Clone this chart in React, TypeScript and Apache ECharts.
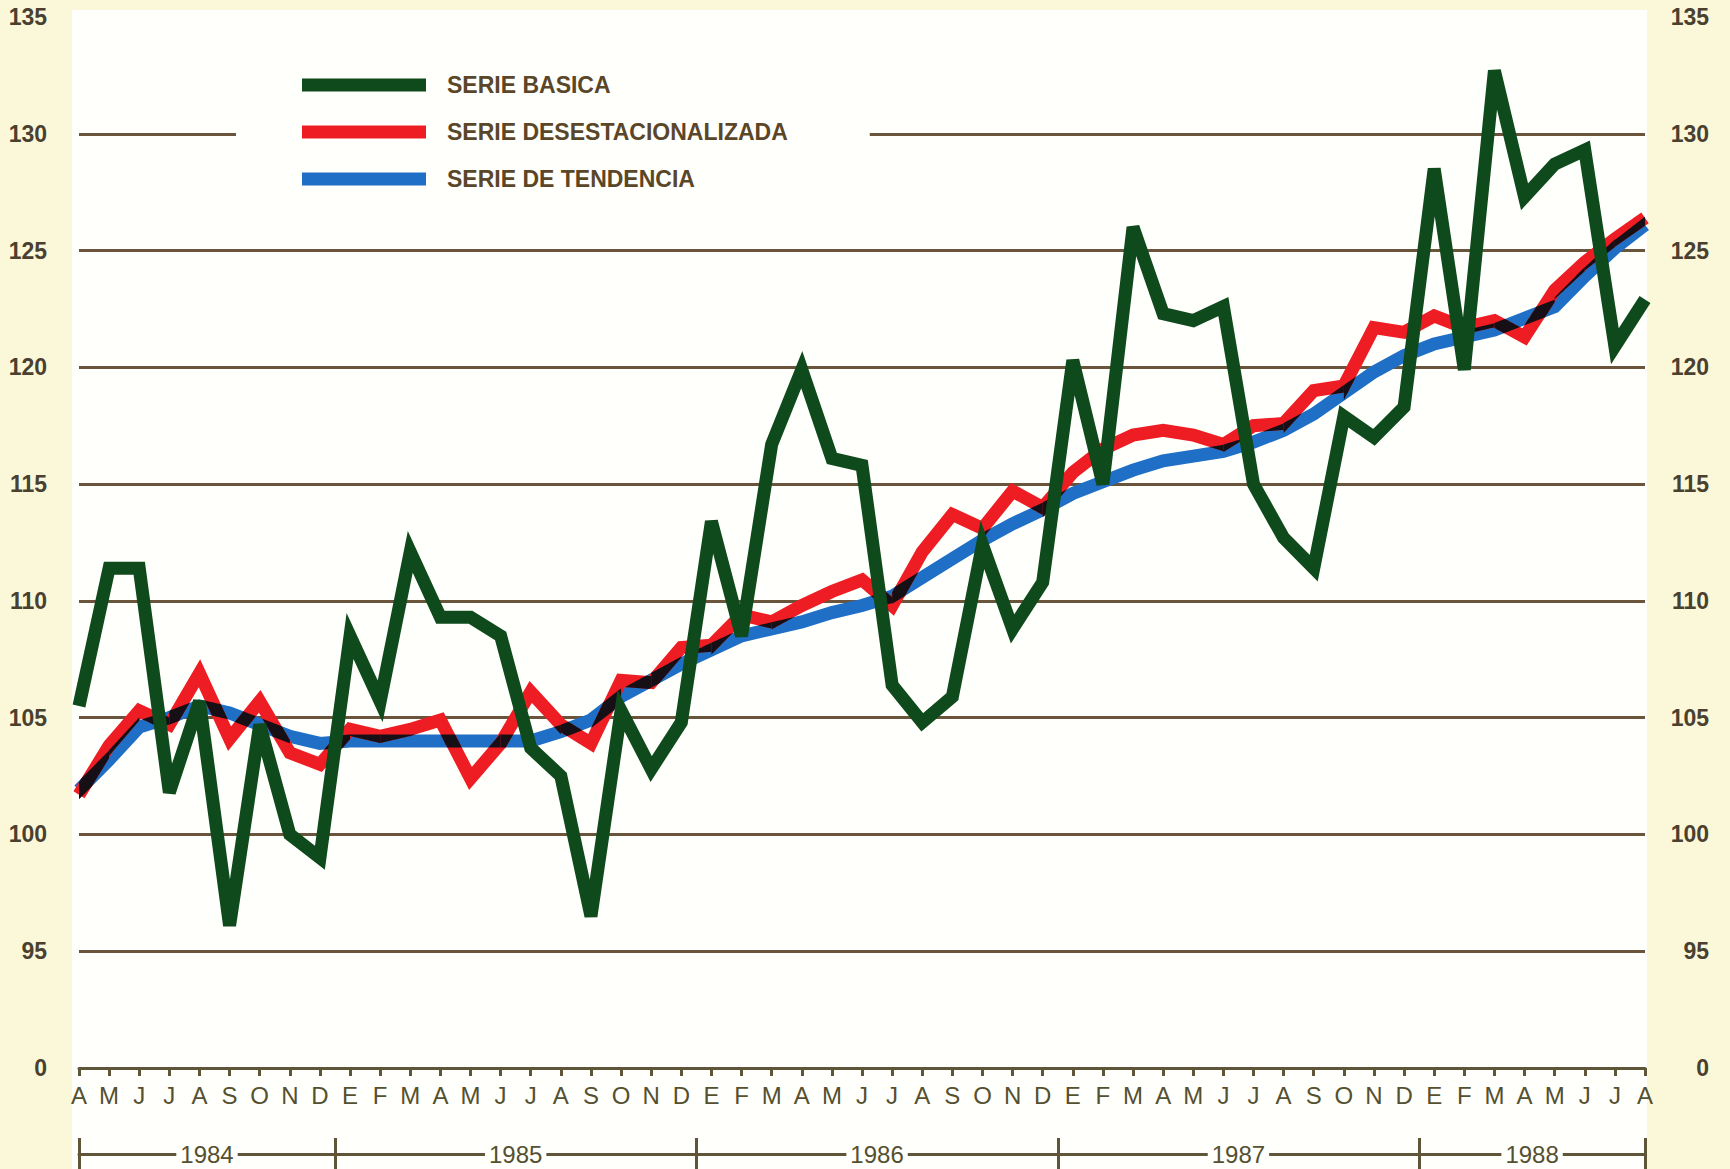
import React, { useEffect, useRef } from "react";
import * as echarts from "echarts";

// ---- data ----
const months1984 = ["A", "M", "J", "J", "A", "S", "O", "N", "D"];
const monthsFullYear = ["E", "F", "M", "A", "M", "J", "J", "A", "S", "O", "N", "D"];
const months1988 = ["E", "F", "M", "A", "M", "J", "J", "A"];
const categories = [
  ...months1984,
  ...monthsFullYear,
  ...monthsFullYear,
  ...monthsFullYear,
  ...months1988,
];
const years = ["1984", "1985", "1986", "1987", "1988"];
const monthsPerYear = [9, 12, 12, 12, 8];

const yTicks = [90, 95, 100, 105, 110, 115, 120, 125, 130, 135];
const yTickText = ["0", "95", "100", "105", "110", "115", "120", "125", "130", "135"];

const serieBasica = [
  105.5, 111.4, 111.4, 101.8, 105.7, 96.1, 104.7, 100.0, 99.0,
  108.5, 105.7, 112.1, 109.3, 109.3, 108.5, 103.7, 102.5, 96.5, 105.3, 102.8, 104.8,
  113.4, 108.5, 116.7, 119.9, 116.1, 115.8, 106.4, 104.8, 105.9, 112.4, 108.8, 110.8,
  120.3, 115.0, 126.0, 122.3, 122.0, 122.6, 115.0, 112.7, 111.4, 117.9, 117.0, 118.3,
  128.5, 119.9, 132.7, 127.3, 128.7, 129.3, 120.9, 122.9,
];
const serieDesestacionalizada = [
  101.7, 103.8, 105.3, 104.7, 106.9, 104.1, 105.7, 103.5, 103.0,
  104.5, 104.2, 104.5, 104.9, 102.4, 103.9, 106.1, 104.7, 103.9, 106.6, 106.5, 108.0,
  108.1, 109.4, 109.1, 109.8, 110.4, 110.9, 109.8, 112.1, 113.7, 113.1, 114.7, 114.0,
  115.5, 116.5, 117.1, 117.3, 117.1, 116.7, 117.5, 117.6, 119.0, 119.2, 121.7, 121.5,
  122.2, 121.7, 122.0, 121.3, 123.3, 124.5, 125.5, 126.4,
];
const serieTendencia = [
  101.9, 103.2, 104.6, 105.0, 105.5, 105.2, 104.7, 104.2, 103.9,
  104.0, 104.0, 104.0, 104.0, 104.0, 104.0, 104.0, 104.4, 104.9, 105.9, 106.6, 107.3,
  107.9, 108.5, 108.8, 109.1, 109.5, 109.8, 110.2, 111.0, 111.8, 112.6, 113.3, 113.9,
  114.6, 115.1, 115.6, 116.0, 116.2, 116.4, 116.8, 117.3, 118.0, 118.9, 119.8, 120.5,
  121.0, 121.3, 121.6, 122.1, 122.6, 123.9, 125.1, 126.1,
];

const seriesNames = ["SERIE BASICA", "SERIE DESESTACIONALIZADA", "SERIE DE TENDENCIA"];
const seriesColors = ["#0f4a1c", "#ee1d23", "#1f6fc6"];

// year separators / label centres in month-index units
const lastIndex = categories.length - 1;
const yearBounds: number[] = [0];
const yearMids: number[] = [];
{
  let cum = 0;
  monthsPerYear.forEach((n, i) => {
    const start = i === 0 ? 0 : cum - 0.5;
    cum += n;
    const end = i === monthsPerYear.length - 1 ? lastIndex : cum - 0.5;
    yearBounds.push(end);
    yearMids.push((start + end) / 2);
  });
}

const FONT = "'Liberation Sans', Arial, Helvetica, sans-serif";
const GRID_COLOR = "#6a553c";
const AXIS_COLOR = "#5f5538";
const TEXT_COLOR = "#4a4030";
const PAPER = "#fbf8da";
const WHITE = "#fffffc";
const OVERPRINT = "#161016";
const LINE_W = 13;

export default function App() {
  const ref = useRef<HTMLDivElement>(null);

  useEffect(() => {
    if (!ref.current) return;
    const chart = echarts.init(ref.current, undefined, { renderer: "svg" });

    const yFmt = (v: number) => {
      const k = yTicks.indexOf(Math.round(v));
      return k >= 0 ? yTickText[k] : "";
    };

    const yearAxisBase = {
      type: "value",
      min: 0,
      max: lastIndex,
      position: "bottom",
      offset: 86,
      splitLine: { show: false },
    };

    // where the red and blue inks overlap in print they read as black:
    // intersection of the two stroke bands, segment by segment
    const overlapItem = (params: any, api: any) => {
      const i = params.dataIndex;
      const a0 = api.coord([i, serieDesestacionalizada[i]]);
      const a1 = api.coord([i + 1, serieDesestacionalizada[i + 1]]);
      const b0 = api.coord([i, serieTendencia[i]]);
      const b1 = api.coord([i + 1, serieTendencia[i + 1]]);
      const dx = a1[0] - a0[0];
      const ha = (LINE_W / 2) * Math.sqrt(1 + Math.pow((a1[1] - a0[1]) / dx, 2));
      const hb = (LINE_W / 2) * Math.sqrt(1 + Math.pow((b1[1] - b0[1]) / dx, 2));
      const N = 60;
      const top: number[][] = [];
      const bot: number[][] = [];
      for (let k = 0; k <= N; k++) {
        const t = k / N;
        const x = a0[0] + t * dx;
        const ya = a0[1] + t * (a1[1] - a0[1]);
        const yb = b0[1] + t * (b1[1] - b0[1]);
        const lo = Math.max(ya - ha, yb - hb);
        const hi = Math.min(ya + ha, yb + hb);
        if (hi > lo) {
          top.push([x, lo]);
          bot.push([x, hi]);
        }
      }
      if (top.length < 2) return { type: "group", children: [] };
      return {
        type: "polygon",
        shape: { points: top.concat(bot.reverse()) },
        style: { fill: OVERPRINT },
      };
    };

    const lineSeries = [serieBasica, serieDesestacionalizada, serieTendencia].map((d, i) => ({
      name: seriesNames[i],
      type: "line",
      xAxisIndex: 0,
      yAxisIndex: 0,
      data: d,
      symbol: "none",
      showSymbol: false,
      color: seriesColors[i],
      itemStyle: { color: seriesColors[i] },
      lineStyle: { color: seriesColors[i], width: LINE_W, join: "miter", miterLimit: 4 },
      emphasis: { disabled: true },
      silent: true,
      z: i === 0 ? 5 : 3 - i,
    }));

    const option: any = {
      animation: false,
      backgroundColor: PAPER,
      graphic: [
        {
          type: "rect",
          z: -10,
          silent: true,
          shape: { x: 72, y: 10, width: 1575, height: 1159 },
          style: { fill: WHITE },
        },
      ],
      grid: { left: 79, right: 85, top: 17, bottom: 101 },
      legend: {
        orient: "vertical",
        left: 236,
        top: 60,
        icon: "rect",
        itemWidth: 124,
        itemHeight: 13,
        itemGap: 23,
        padding: [13, 82, 13, 66],
        backgroundColor: WHITE,
        selectedMode: false,
        textStyle: {
          color: "#5a4628",
          fontSize: 23,
          fontWeight: "bold",
          fontFamily: FONT,
          lineHeight: 24,
          padding: [0, 0, 0, 16],
        },
        data: seriesNames,
      },
      xAxis: [
        {
          type: "category",
          data: categories,
          boundaryGap: false,
          axisLine: { lineStyle: { color: AXIS_COLOR, width: 3 } },
          axisTick: {
            show: true,
            interval: 0,
            length: 8,
            lineStyle: { color: AXIS_COLOR, width: 3 },
          },
          axisLabel: {
            interval: 0,
            margin: 15,
            color: "#55502f",
            fontSize: 24,
            fontFamily: FONT,
          },
          splitLine: { show: false },
        },
        {
          ...yearAxisBase,
          axisLine: { show: true, lineStyle: { color: AXIS_COLOR, width: 3 } },
          axisTick: {
            show: true,
            customValues: yearBounds,
            length: 18,
            inside: false,
            lineStyle: { color: AXIS_COLOR, width: 3 },
          },
          axisLabel: {
            show: true,
            customValues: yearMids,
            formatter: (v: number) => {
              const k = yearMids.findIndex((m) => Math.abs(m - v) < 0.01);
              return k >= 0 ? years[k] : "";
            },
            margin: 0,
            verticalAlign: "middle",
            color: "#55502f",
            fontSize: 24,
            fontFamily: FONT,
            backgroundColor: WHITE,
            padding: [0, 4],
          },
        },
        {
          ...yearAxisBase,
          axisLine: { show: false },
          axisTick: {
            show: true,
            customValues: yearBounds,
            length: 16,
            inside: true,
            lineStyle: { color: AXIS_COLOR, width: 3 },
          },
          axisLabel: { show: false },
        },
      ],
      yAxis: [
        {
          type: "value",
          min: 90,
          max: 135,
          interval: 5,
          position: "left",
          axisLine: { show: false },
          axisTick: { show: false },
          axisLabel: {
            formatter: yFmt,
            margin: 32,
            align: "right",
            color: TEXT_COLOR,
            fontSize: 23,
            fontWeight: "bold",
            fontFamily: FONT,
          },
          splitLine: {
            show: true,
            showMinLine: false,
            showMaxLine: false,
            lineStyle: { color: GRID_COLOR, width: 3 },
          },
        },
        {
          type: "value",
          min: 90,
          max: 135,
          interval: 5,
          position: "right",
          axisLine: { show: false },
          axisTick: { show: false },
          axisLabel: {
            formatter: yFmt,
            margin: 64,
            align: "right",
            color: TEXT_COLOR,
            fontSize: 23,
            fontWeight: "bold",
            fontFamily: FONT,
          },
          splitLine: { show: false },
        },
      ],
      series: [
        ...lineSeries,
        {
          type: "custom",
          xAxisIndex: 0,
          yAxisIndex: 0,
          silent: true,
          z: 4,
          data: serieTendencia.slice(0, -1).map((v, i) => [i, v]),
          renderItem: overlapItem,
        },
      ],
    };

    chart.setOption(option);
    return () => chart.dispose();
  }, []);

  return (
    <div
      ref={ref}
      style={{ position: "absolute", left: 0, top: 0, width: 1730, height: 1169 }}
    />
  );
}
